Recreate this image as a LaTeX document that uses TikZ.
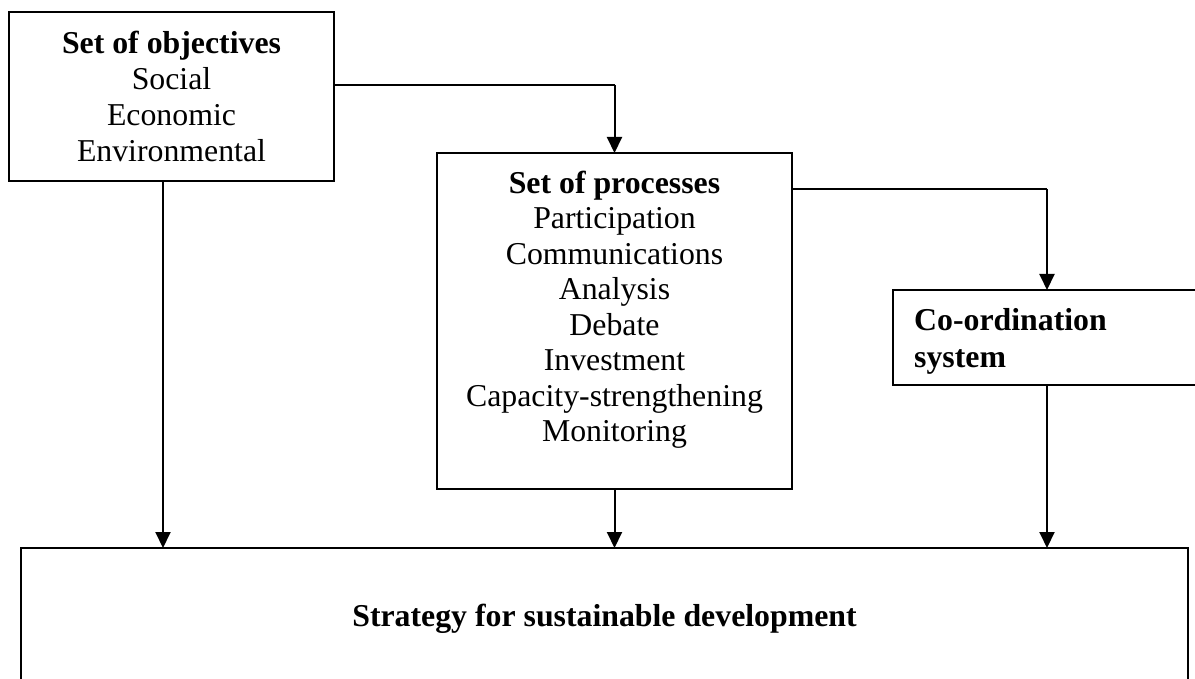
\documentclass[tikz,border=0pt]{standalone}
\usepackage{fontspec}
\setmainfont{Liberation Serif}
\usetikzlibrary{arrows.meta}
\begin{document}
\begin{tikzpicture}[x=1pt,y=-1pt,
  boxshape/.style={draw,line width=2pt,rectangle,inner sep=0pt,outer sep=0pt},
  txt/.style={inner sep=0pt,font=\fontsize{31.8}{36.3}\selectfont},
  arr/.style={line width=2pt,-{Triangle[width=15pt,length=16pt]}},
  seg/.style={line width=2pt}]
\useasboundingbox (0,0) rectangle (1195,679);
\clip (0,0) rectangle (1195,679);
% boxes
\node[boxshape,minimum width=325pt,minimum height=169pt] (o) at (171.5,96.5) {};
\node[boxshape,minimum width=355pt,minimum height=336pt] (p) at (614.5,321) {};
\node[boxshape,minimum width=310pt,minimum height=95pt] (c) at (1048,337.5) {};
\node[boxshape,minimum width=1167pt,minimum height=160pt] (s) at (604.5,628) {};
% texts (anchor = baseline of the last line)
\node[txt,align=center,anchor=base] (ot) at (171.5,162)
  {\textbf{Set of objectives}\\Social\\Economic\\Environmental};
\node[txt,align=center,anchor=base,font=\fontsize{31.8}{35.5}\selectfont] (pt) at (614.5,441.5)
  {\textbf{Set of processes}\\Participation\\Communications\\Analysis\\Debate\\Investment\\Capacity-strengthening\\Monitoring};
\node[txt,align=left,anchor=base west,font=\fontsize{31.8}{37}\selectfont\bfseries] (ct) at (914,367)
  {Co-ordination\\system};
\node[txt,anchor=base,font=\fontsize{31.8}{36}\selectfont\bfseries] (st) at (604.5,626)
  {Strategy for sustainable development};
% helper coordinates
\coordinate (h1) at (614.5,85);
\coordinate (h2) at (1047,189);
\coordinate (v1) at (163,0);
% connectors
\draw[seg] (o.east |- h1) -- (h1);
\draw[arr] (h1) -- (p.north);
\draw[seg] (p.east |- h2) -- (h2);
\draw[arr] (h2) -- (h2 |- c.north);
\draw[arr] (o.south -| v1) -- (v1 |- s.north);
\draw[arr] (p.south) -- (p.south |- s.north);
\draw[arr] (c.south -| h2) -- (h2 |- s.north);
\end{tikzpicture}
\end{document}
